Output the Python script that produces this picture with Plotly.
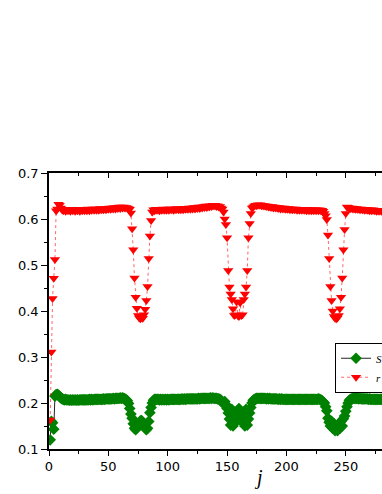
import plotly.graph_objects as go

# r (red triangles), j = 1..282
r_start = [0.163, 0.311, 0.427, 0.471, 0.512, 0.618, 0.622, 0.632, 0.630, 0.624]
r_flat1 = [0.620, 0.618, 0.621, 0.617, 0.620, 0.618, 0.621, 0.617, 0.620, 0.618,
           0.621, 0.617, 0.620, 0.618, 0.621, 0.617, 0.620, 0.618, 0.621, 0.618,
           0.621, 0.618, 0.622, 0.618, 0.621, 0.619, 0.622, 0.619, 0.622, 0.619,
           0.622, 0.619, 0.623, 0.620, 0.622, 0.620, 0.623, 0.620, 0.623, 0.621,
           0.624, 0.621, 0.624, 0.622, 0.625, 0.622, 0.625, 0.623, 0.626, 0.623,
           0.626, 0.624, 0.626, 0.624, 0.625, 0.624, 0.623, 0.621]
r_dip1 = [0.613, 0.579, 0.533, 0.472, 0.430, 0.406, 0.390, 0.385, 0.383, 0.386,
          0.384, 0.392, 0.404, 0.423, 0.453, 0.514, 0.563, 0.597, 0.615]
r_flat2 = [0.620, 0.618, 0.621, 0.619, 0.621, 0.618, 0.621, 0.619, 0.622, 0.619,
           0.621, 0.619, 0.622, 0.619, 0.622, 0.620, 0.622, 0.619, 0.622, 0.620,
           0.623, 0.620, 0.622, 0.620, 0.623, 0.620, 0.623, 0.621, 0.623, 0.621,
           0.624, 0.621, 0.624, 0.622, 0.625, 0.622, 0.625, 0.623, 0.626, 0.623,
           0.626, 0.624, 0.627, 0.625, 0.628, 0.625, 0.628, 0.626, 0.629, 0.627,
           0.630, 0.628, 0.630, 0.627, 0.629, 0.626, 0.627, 0.624, 0.622]
r_dip2 = [0.615, 0.600, 0.588, 0.559, 0.488, 0.452, 0.437, 0.425, 0.405, 0.390,
          0.392, 0.420, 0.390, 0.388, 0.418, 0.390, 0.392, 0.425, 0.437, 0.452,
          0.488, 0.559, 0.590, 0.612, 0.624]
r_flat3 = [0.626, 0.628, 0.630, 0.629, 0.631, 0.630, 0.631, 0.629, 0.630, 0.628,
           0.629, 0.627, 0.628, 0.626, 0.627, 0.625, 0.627, 0.624, 0.626, 0.624,
           0.625, 0.623, 0.625, 0.622, 0.624, 0.622, 0.624, 0.621, 0.623, 0.621,
           0.623, 0.620, 0.622, 0.620, 0.622, 0.620, 0.622, 0.619, 0.621, 0.619,
           0.621, 0.619, 0.621, 0.619, 0.621, 0.618, 0.621, 0.618, 0.620, 0.618,
           0.620, 0.618, 0.620, 0.618, 0.620, 0.618, 0.620, 0.618, 0.619, 0.617, 0.612]
r_dip3 = [0.607, 0.599, 0.565, 0.514, 0.453, 0.423, 0.400, 0.388, 0.384, 0.383,
          0.385, 0.390, 0.405, 0.430, 0.472, 0.533, 0.577, 0.612, 0.626]
r_flat4 = [0.625, 0.624, 0.623, 0.624, 0.622, 0.623, 0.621, 0.623, 0.621, 0.622,
           0.620, 0.622, 0.620, 0.621, 0.619, 0.621, 0.619, 0.620, 0.618, 0.620,
           0.618, 0.620, 0.618, 0.619, 0.617, 0.619, 0.617, 0.619, 0.617, 0.618, 0.617]

# S (green diamonds), j = 1..282
s_start = [0.120, 0.160, 0.157, 0.143, 0.215, 0.218, 0.219, 0.217, 0.214, 0.211]
s_flat1 = [0.209, 0.208, 0.207, 0.208, 0.207, 0.207, 0.206, 0.207, 0.206, 0.207,
           0.206, 0.207, 0.206, 0.207, 0.206, 0.207, 0.207, 0.207, 0.207, 0.207,
           0.207, 0.207, 0.207, 0.208, 0.207, 0.208, 0.207, 0.208, 0.208, 0.208,
           0.208, 0.208, 0.208, 0.208, 0.208, 0.209, 0.208, 0.209, 0.209, 0.209,
           0.209, 0.209, 0.209, 0.210, 0.209, 0.210, 0.210, 0.210, 0.210, 0.211,
           0.210, 0.211, 0.210, 0.209, 0.207]
s_dip1 = [0.205, 0.199, 0.188, 0.176, 0.167, 0.155, 0.145, 0.142, 0.146, 0.152,
          0.157, 0.161, 0.162, 0.158, 0.152, 0.146, 0.142, 0.145, 0.160, 0.179,
          0.190, 0.200, 0.206]
s_flat2 = [0.208, 0.208, 0.208, 0.208, 0.207, 0.208, 0.207, 0.208, 0.207, 0.208,
           0.207, 0.208, 0.207, 0.208, 0.208, 0.208, 0.208, 0.208, 0.208, 0.208,
           0.208, 0.208, 0.208, 0.209, 0.208, 0.209, 0.208, 0.209, 0.209, 0.209,
           0.209, 0.209, 0.209, 0.209, 0.209, 0.209, 0.209, 0.210, 0.209, 0.210,
           0.210, 0.210, 0.210, 0.210, 0.210, 0.210, 0.210, 0.211, 0.210, 0.211,
           0.210, 0.210, 0.210, 0.209, 0.209, 0.208, 0.206, 0.203, 0.198]
s_dip2 = [0.203, 0.197, 0.188, 0.178, 0.165, 0.152, 0.186, 0.150, 0.180, 0.158,
          0.172, 0.166, 0.188, 0.166, 0.172, 0.158, 0.180, 0.150, 0.186, 0.152,
          0.165, 0.178, 0.190, 0.200, 0.206]
s_flat3 = [0.208, 0.209, 0.210, 0.210, 0.210, 0.210, 0.210, 0.210, 0.210, 0.210,
           0.209, 0.210, 0.209, 0.210, 0.209, 0.209, 0.209, 0.209, 0.209, 0.209,
           0.208, 0.209, 0.208, 0.209, 0.208, 0.208, 0.208, 0.208, 0.208, 0.208,
           0.208, 0.208, 0.208, 0.208, 0.208, 0.208, 0.208, 0.208, 0.208, 0.208,
           0.208, 0.208, 0.208, 0.208, 0.208, 0.208, 0.208, 0.208, 0.208, 0.208,
           0.208, 0.208, 0.208, 0.208, 0.209, 0.208, 0.207, 0.205, 0.202]
s_dip3 = [0.200, 0.192, 0.183, 0.167, 0.158, 0.150, 0.160, 0.145, 0.155, 0.140,
          0.147, 0.140, 0.155, 0.145, 0.160, 0.150, 0.166, 0.172, 0.182, 0.192,
          0.200, 0.206]
s_flat4 = [0.208, 0.209, 0.210, 0.210, 0.210, 0.210, 0.210, 0.209, 0.210, 0.209,
           0.209, 0.209, 0.209, 0.209, 0.209, 0.208, 0.209, 0.208, 0.208, 0.208,
           0.208, 0.208, 0.208, 0.208, 0.208, 0.208, 0.208, 0.208, 0.208]

r_vals = r_start + r_flat1 + r_dip1 + r_flat2 + r_dip2 + r_flat3 + r_dip3 + r_flat4
s_vals = s_start + s_flat1 + s_dip1 + s_flat2 + s_dip2 + s_flat3 + s_dip3 + s_flat4
j = list(range(1, len(r_vals) + 1))

x_ticks = [0, 50, 100, 150, 200, 250]
x_range = [0, 280.5]   # plot area runs to the right edge, legend gets cut there

tick_font = dict(family="DejaVu Sans", size=13, color="black")

fig = go.Figure()
fig.add_trace(go.Scatter(
    x=j, y=s_vals, name="<i>S</i>", mode="lines+markers",
    line=dict(color="#222222", width=1),
    marker=dict(symbol="diamond", size=9, color="#008000", line=dict(width=0)),
))
fig.add_trace(go.Scatter(
    x=j, y=r_vals, name="<i>r</i>", mode="lines+markers",
    line=dict(color="rgba(255,0,0,0.6)", width=1, dash="dot"),
    marker=dict(symbol="triangle-down", size=9, color="#ff0000", line=dict(width=0)),
))
# invisible trace that carries the top axis with inward ticks
fig.add_trace(go.Scatter(x=[0], y=[0.1], xaxis="x2", mode="markers",
                         marker=dict(opacity=0), showlegend=False, hoverinfo="skip"))

fig.update_layout(
    width=382, height=494,
    margin=dict(l=49, r=0, t=173, b=45, autoexpand=False),
    paper_bgcolor="white", plot_bgcolor="white",
    showlegend=True,
    legend=dict(x=0.859, y=0.385, xanchor="left", yanchor="top",
                bgcolor="white", bordercolor="black", borderwidth=1,
                font=dict(family="Liberation Serif", size=11, color="black"),
                tracegroupgap=0),
    xaxis=dict(range=x_range, tickvals=x_ticks,
               ticks="outside", ticklen=5, tickwidth=1, tickcolor="black",
               minor=dict(dtick=25, tick0=0, ticks="outside", ticklen=3, tickcolor="black"),
               showline=True, linecolor="black", linewidth=1.5,
               showgrid=False, zeroline=False, tickfont=tick_font),
    xaxis2=dict(range=x_range, overlaying="x", side="top", tickvals=x_ticks,
                ticks="inside", ticklen=5, tickcolor="black", showticklabels=False,
                minor=dict(dtick=25, tick0=0, ticks="inside", ticklen=3, tickcolor="black"),
                showline=True, linecolor="black", linewidth=1.5,
                showgrid=False, zeroline=False),
    yaxis=dict(range=[0.1, 0.7], dtick=0.1, tickformat=".1f",
               ticks="outside", ticklen=6, tickwidth=1, tickcolor="black",
               minor=dict(dtick=0.05, ticks="outside", ticklen=3, tickcolor="black"),
               showline=True, linecolor="black", linewidth=1.5,
               showgrid=False, zeroline=False, tickfont=tick_font),
    annotations=[dict(text="<i>j</i>", xref="paper", yref="paper",
                      x=(258 - 49) / 333, y=-0.105, xanchor="center", yanchor="middle",
                      showarrow=False,
                      font=dict(family="Liberation Serif", size=20, color="black"))],
)

# drop the default page margin and scrollbars so the figure sits at the window corner
page_fix = ("document.body.style.margin='0';"
            "document.body.style.overflow='hidden';"
            "document.documentElement.style.overflow='hidden';")
fig.write_html("out.html", post_script=page_fix, config={"displayModeBar": False})
